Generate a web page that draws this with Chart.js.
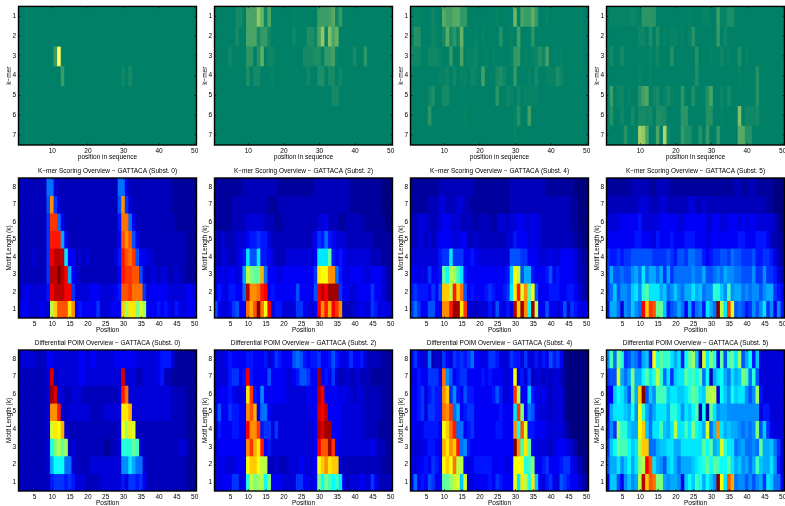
<!DOCTYPE html>
<html>
<head>
<meta charset="utf-8">
<title>GATTACA overview</title>
<script src="https://cdn.jsdelivr.net/npm/chart.js@4/dist/chart.umd.min.js"></script>
<style>
    html, body { margin: 0; padding: 0; background: #fff; overflow: hidden; }
    #page { position: relative; width: 785px; height: 506px; overflow: hidden; }
    canvas { position: absolute; filter: blur(0.35px); }
</style>
</head>
<body>
<div id="page"></div>
<script>
// Cell levels, one character per position (base 36: 0 = low .. z = high),
// five groups of ten positions, rows listed from the top of the panel down.
const ZERO = '0000000000 0000000000 0000000000 0000000000 0000000000';

const kmerSubst0 = [
    ZERO,
    ZERO,
    '0000000000 8z00000000 0000000000 0000000000 0000000000',
    '0000000000 0080000000 0000000002 0300000000 0000000000',
    ZERO, ZERO, ZERO
];
const kmerSubst2 = [
    '000000330a aake2b0000 0010000008 889c270000 0000000000',
    '000000300a aa37720000 002000442a k1iae00000 0000000000',
    '0000200006 605d022000 0000033344 1779100003 0060000000',
    '0000000004 0330001000 0000002004 4033020000 0000000000',
    '0000000000 0000000000 0000000000 0003300000 0000000000',
    ZERO, ZERO
];
const kmerSubst4 = [
    '011000200c 99cc770000 000010000f 0a88d70010 0000000000',
    '0550002103 c362e00010 1000050010 9000600000 0000000000',
    '2220022210 0700a01120 0101000017 7010125290 0010000000',
    '0000000011 2020110210 9000342007 0001030011 1420000000',
    '0000024003 3000000000 0000600210 2011110000 0000000000',
    '0000060000 0000010000 0000000001 5009000000 0000000000',
    '0000000000 0000000000 0000000001 0000000000 0000000000'
];
const kmerSubst5 = [
    '0111111210 6666000000 0001000110 0811440000 0000000000',
    '0000000002 2040401011 0101500000 0702000000 0000000000',
    '0300300000 0010200050 0000050001 0020100401 0000000000',
    '0000000001 0010000000 0000040000 0000000100 0050000000',
    '0802201005 9b02301310 060040005a 0020300000 0050000000',
    '0500200303 3230443000 0660000055 0010000i02 2230000000',
    '000005000m ka00a0o200 0744005070 0700000cc5 5000000000'
];

const scoreSubst0 = [
    '3333333399 4333333333 3333333399 5333333333 3332222222',
    '333333338q 7433333333 333333338q 7433333333 3332222222',
    '333333337t t953333333 333333336r r953333333 3333222222',
    '333333337u uub5333333 333333335s qs85333333 3333333222',
    '333343337v xxxd553434 333333346u srt8554433 3333333222',
    '333333337x xzxvb54333 333333335u ttss843443 4433433222',
    '345444446v xxxvv74444 555444456s strrr74555 5544444554',
    '455444544k osssnq5655 557444555o jnnilj5556 5654654555'
];
const scoreSubst2 = [
    '2222222233 3333333322 2222222233 3333333322 2222222111',
    '2222233333 3333322233 3333333333 3333333322 2222222111',
    '2222233334 4444333223 3333333334 4533322333 3322222211',
    '3343334445 6676643333 3333333357 6965444333 3333322222',
    '334433456d 88d6654333 444444445d ddh6565444 4444333222',
    '44545545bk ihhp955545 555555557n mmqq965455 5544555432',
    '565466559x qqruv56555 555855558v xvyyy75544 5555755432',
    '854457855r pszrmv4664 444775445v qupvtq3334 4544764544'
];
const scoreSubst4 = [
    '2222222233 3333333322 2222222233 3333333322 2222221111',
    '2222233344 3334433222 2222222233 3333333333 3333322111',
    '3344433345 5444333323 3332344344 5544544333 3333322111',
    '3344343455 5544553343 3333333446 5554544333 3333332211',
    '4444444467 7d77755654 4444444488 8775554445 4455554322',
    '554547556h ekjgd65555 55555556cm k8bb655568 5655554332',
    '676665758o okuor85655 56765567dn ulqhm85556 6655665432',
    '797558855q quyynt4434 446485464x oyqeyk5585 5458476545'
];
const scoreSubst5 = [
    '2222222333 3322333322 2222222222 2222223322 3322222111',
    '3333333334 4433344333 3334433433 3333333333 3333322111',
    '4444555556 4444455555 4455555544 5544555454 5544444321',
    '5555555566 5554655565 5566655545 5555555665 5566653322',
    '7667677888 8887777876 8879988656 7788798877 7866776432',
    '7b88988ab9 d9bb9b7b79 9999a99b88 9a9baa9988 8a77a77643',
    '79c8aa9cda fhdddbc9ac a9bbdbc9aa ffcagabb9a 9aa8abb765',
    '6bb94a9ca9 votshhc689 b95b69a6db 9zkdtl8986 7a8ad7a5a6'
];

const poimSubst0 = [
    '3444433355 4444444554 5544444555 5554444445 6664222222',
    '333333334w 3444444554 444444444w 4443344445 6332222222',
    '333333334y w443344433 333333334u r444444444 4443333222',
    '333333334q qu43444444 333344444n np44444444 4443333222',
    '333333334l nmp4333333 333333334m jnl3333333 3333333222',
    '333333334f ikhj343333 333322334f ffhg433333 3333344322',
    '333333334b eee9943333 444444444a adb9943333 3333333222',
    '3333333336 7776764443 3334444446 4776753333 3333333222'
];
const poimSubst2 = [
    '4445655556 6555645765 5589865667 5568654575 5643333222',
    '444467756v 6555585555 445688755y 5657433433 4333222222',
    '455565445n t65a555555 444444555x v555545443 4433333222',
    '585576655q sp59954444 444444455w vx55554444 4433333222',
    '365556655v qqt6774744 444444445x wyy5554444 4433332222',
    '455555555q tpnu564444 444444445v ssyt544444 4444543322',
    '445444555m oomkk33433 344454445m oqnoo43333 3333333222',
    '445557745f kijkei5554 444775545i eigegd5344 4544753333'
];
const poimSubst4 = [
    '5754493437 5476767955 4577644476 6474464658 6751111111',
    '456557775r a856775555 656555445m 5647344343 4432111111',
    '556746766q o7a6586655 555686445t k55c654543 4442111111',
    '556747766r qt9b567755 555556555d ti59854443 4442111111',
    '554566665m oru9956755 555566555q esl6655544 4443211111',
    '444456655p nqou9a6555 555555555z qgnh544443 4555442111',
    '545565765m omrkk54566 666555545m mmfgi55675 5567754321',
    '595658755h hjklcl4455 556576555m dnkfnc5467 5487655432'
];
const poimSubst5 = [
    'ag9if78a97 bc6mfhfgdb d6ehjc3ldi f5h8ghdj8b e6c4444444',
    '788lb9bibb ehdfkf9d7c ddhfgeh9e3 bdeb9dbcig 9f84444444',
    '55cedb8hbo z8cagggcdd ccdfhgdcjk k4ecaecdda 8aj6444444',
    '5bdddcbeam fb9bdddbff dadceh3e2h dabbaaaaaa aaa4664444',
    '6a7jffcbbm oc9ddgcbdk ddgdiedbl9 cqdbcbba9a 9ai8c75444',
    '7cehggecdk oo99bccddb bddddddheh bclfdd9ab9 9a9hbbc974',
    '8bbdacebdi kvsdba8cdb 9bbbcdefhe hgeehdbcab 9bgcbbda64',
    '5cc85acabk xosriibabb a5cecgebec azmdsp9aa8 a8ab7dc995'
];

const positions = Array.from({ length: 50 }, (_, i) => i + 1);
const kmerXTicks = [10, 20, 30, 40, 50];
const overviewXTicks = [5, 10, 15, 20, 25, 30, 35, 40, 45, 50];
const kmerYTicks = [1, 2, 3, 4, 5, 6, 7];
const overviewYTicks = [1, 2, 3, 4, 5, 6, 7, 8];
const substLabels = [0, 2, 4, 5];

const FONT = '"Liberation Sans", Helvetica, Arial, sans-serif';
const FONT_SIZE = 6.5;
const PLOT_W = 178;
const LEFT_GUTTER = 18.5;
const BOTTOM_GUTTER = 17;
const CANVAS_W = 205;

function parseRow(row) {
    const groups = row.split(/\s+/).join('');
    return positions.map((p, i) => parseInt(groups[i] || '0', 36) / 35);
}

// MATLAB "summer"
function summer(v) {
    return `rgb(${Math.round(v * 255)},${Math.round((0.5 + 0.5 * v) * 255)},102)`;
}

// MATLAB "jet", low end pulled down a little to get the darker blue background
function jet(level) {
    const v = Math.max(0, (level - 0.03) / 0.97);
    const band = (c) => Math.max(0, Math.min(1, 1.5 - Math.abs(4 * v - c)));
    return `rgb(${Math.round(band(3) * 255)},${Math.round(band(2) * 255)},${Math.round(band(1) * 255)})`;
}

const frameTicks = {
    id: 'frameTicks',
    afterDatasetsDraw(chart) {
        const { ctx, chartArea: a, scales } = chart;
        ctx.save();
        ctx.strokeStyle = '#000';
        ctx.lineWidth = 0.6;
        ctx.beginPath();
        scales.x.ticks.forEach(t => {
            const px = scales.x.getPixelForValue(t.value);
            ctx.moveTo(px, a.bottom); ctx.lineTo(px, a.bottom - 2);
            ctx.moveTo(px, a.top); ctx.lineTo(px, a.top + 2);
        });
        scales.y.ticks.forEach(t => {
            const py = scales.y.getPixelForValue(t.value);
            ctx.moveTo(a.left, py); ctx.lineTo(a.left + 2, py);
            ctx.moveTo(a.right, py); ctx.lineTo(a.right - 2, py);
        });
        ctx.stroke();
        ctx.lineWidth = 1.4;
        ctx.strokeRect(a.left, a.top, a.right - a.left, a.bottom - a.top);
        ctx.restore();
    }
};

function drawPanel(p) {
    const top = p.title ? 11 : 5;
    const canvas = document.createElement('canvas');
    canvas.width = CANVAS_W;
    canvas.height = top + p.plotH + BOTTOM_GUTTER;
    canvas.style.left = p.left + 'px';
    canvas.style.top = (p.plotTop - top) + 'px';
    document.getElementById('page').appendChild(canvas);

    const nRows = p.rows.length;
    const datasets = p.rows.map((row, r) => {
        const k = p.reverse ? r + 1 : nRows - r;
        const vals = parseRow(row);
        return {
            data: positions.map(x => ({ x, y: [k - 0.5, k + 0.5] })),
            backgroundColor: vals.map(p.colormap),
            borderWidth: 0,
            inflateAmount: 0.5,
            barPercentage: 1,
            categoryPercentage: 1,
            grouped: false
        };
    });

    new Chart(canvas, {
        type: 'bar',
        data: { datasets },
        plugins: [frameTicks],
        options: {
            responsive: false,
            animation: false,
            layout: { padding: { top: p.title ? 0 : 5, right: CANVAS_W - LEFT_GUTTER - PLOT_W, left: 0, bottom: 0 } },
            plugins: {
                legend: { display: false },
                tooltip: { enabled: false },
                title: {
                    display: !!p.title,
                    text: p.title,
                    color: '#000',
                    fullSize: false,
                    font: { family: FONT, size: FONT_SIZE, weight: 'normal', lineHeight: 1.2 },
                    padding: { top: 0, bottom: 3.2 }
                }
            },
            scales: {
                x: {
                    type: 'linear',
                    min: 0.5,
                    max: 50.5,
                    offset: false,
                    grid: { display: false, drawTicks: false },
                    border: { display: false },
                    afterBuildTicks: s => { s.ticks = p.xTicks.map(value => ({ value })); },
                    afterFit: s => { s.height = BOTTOM_GUTTER; },
                    ticks: { color: '#000', font: { family: FONT, size: FONT_SIZE }, padding: 2.5, maxRotation: 0, autoSkip: false },
                    title: { display: true, text: p.xLabel, color: '#000', font: { family: FONT, size: FONT_SIZE, lineHeight: 1.2 }, padding: 0.6 }
                },
                y: {
                    type: 'linear',
                    min: 0.5,
                    max: nRows + 0.5,
                    reverse: p.reverse,
                    grid: { display: false, drawTicks: false },
                    border: { display: false },
                    afterBuildTicks: s => { s.ticks = p.yTicks.map(value => ({ value })); },
                    afterFit: s => { s.width = LEFT_GUTTER; },
                    ticks: { color: '#000', font: { family: FONT, size: FONT_SIZE }, padding: 2.5, autoSkip: false },
                    title: { display: true, text: p.yLabel, color: '#000', font: { family: FONT, size: FONT_SIZE, lineHeight: 1.2 }, padding: 5.5 }
                }
            }
        }
    });
}

const canvasLefts = [0, 196, 392, 588];

[kmerSubst0, kmerSubst2, kmerSubst4, kmerSubst5].forEach((rows, i) => drawPanel({
    rows, left: canvasLefts[i], plotTop: 5, plotH: 140, reverse: true, colormap: summer,
    xTicks: kmerXTicks, yTicks: kmerYTicks, xLabel: 'position in sequence', yLabel: 'k\u2212mer'
}));
[scoreSubst0, scoreSubst2, scoreSubst4, scoreSubst5].forEach((rows, i) => drawPanel({
    rows, left: canvasLefts[i], plotTop: 178, plotH: 140, reverse: false, colormap: jet,
    xTicks: overviewXTicks, yTicks: overviewYTicks, xLabel: 'Position', yLabel: 'Motif Length (k)',
    title: `K\u2212mer Scoring Overview \u2212 GATTACA (Subst. ${substLabels[i]})`
}));
[poimSubst0, poimSubst2, poimSubst4, poimSubst5].forEach((rows, i) => drawPanel({
    rows, left: canvasLefts[i], plotTop: 350, plotH: 141, reverse: false, colormap: jet,
    xTicks: overviewXTicks, yTicks: overviewYTicks, xLabel: 'Position', yLabel: 'Motif Length (k)',
    title: `Differential POIM Overview \u2212 GATTACA (Subst. ${substLabels[i]})`
}));
</script>
</body>
</html>
